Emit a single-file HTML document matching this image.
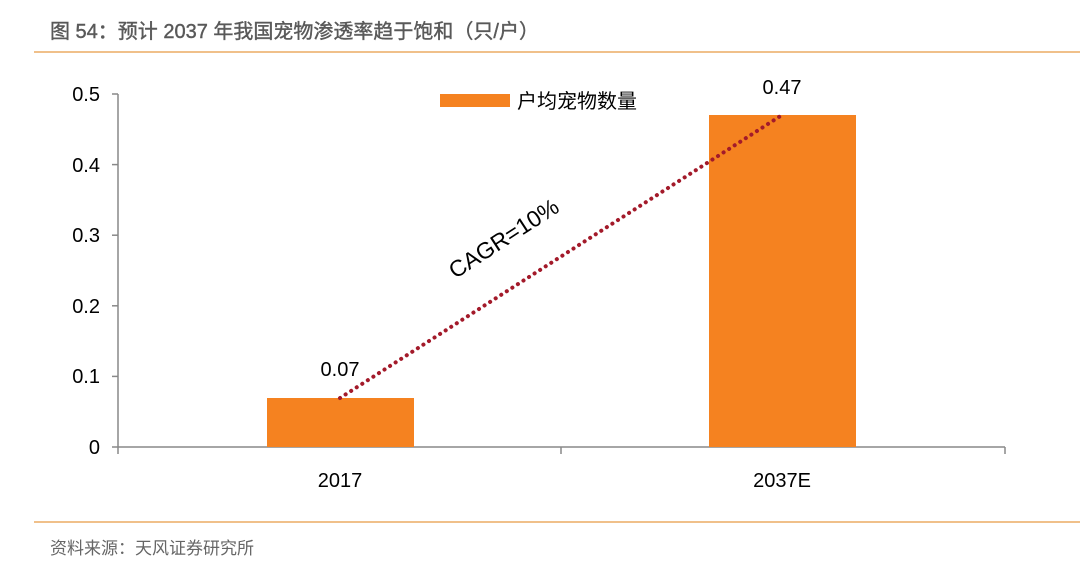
<!DOCTYPE html>
<html><head><meta charset="utf-8"><style>
body{margin:0;background:#fff;}
svg text{font-family:"Liberation Sans","Noto Sans CJK SC",sans-serif;}
</style></head><body>
<svg width="1080" height="575" xmlns="http://www.w3.org/2000/svg">
<rect width="1080" height="575" fill="#fff"/>
<text x="50" y="38" font-size="20" fill="#595959" stroke="#595959" stroke-width="0.4">图 54：预计 2037 年我国宠物渗透率趋于饱和（只/户）</text>
<line x1="34" y1="52" x2="1080" y2="52" stroke="#f0c08a" stroke-width="2"/>
<line x1="34" y1="522" x2="1080" y2="522" stroke="#f0c08a" stroke-width="2"/>
<text x="50" y="554" font-size="17" fill="#666">资料来源：天风证券研究所</text>
<g stroke="#888" stroke-width="1.5">
<line x1="118" y1="94" x2="118" y2="447"/>
<line x1="112" y1="94" x2="118" y2="94"/>
<line x1="112" y1="164.6" x2="118" y2="164.6"/>
<line x1="112" y1="235.2" x2="118" y2="235.2"/>
<line x1="112" y1="305.8" x2="118" y2="305.8"/>
<line x1="112" y1="376.4" x2="118" y2="376.4"/>
<line x1="112" y1="447" x2="1005" y2="447"/>
<line x1="118" y1="447" x2="118" y2="454"/>
<line x1="561" y1="447" x2="561" y2="454"/>
<line x1="1005" y1="447" x2="1005" y2="454"/>
</g>
<g font-size="20" fill="#000" text-anchor="end">
<text x="100" y="101">0.5</text>
<text x="100" y="172">0.4</text>
<text x="100" y="242">0.3</text>
<text x="100" y="313">0.2</text>
<text x="100" y="383">0.1</text>
<text x="100" y="454">0</text>
</g>
<rect x="267" y="398" width="147" height="49" fill="#f58220"/>
<rect x="709" y="115" width="147" height="332" fill="#f58220"/>
<g font-size="20" fill="#000" text-anchor="middle">
<text x="340" y="376">0.07</text>
<text x="782" y="94">0.47</text>
<text x="340" y="487">2017</text>
<text x="782" y="487">2037E</text>
</g>
<line x1="340" y1="398" x2="782" y2="115" stroke="#a31a2a" stroke-width="4" stroke-dasharray="0.1,6.5" stroke-linecap="round"/>
<text x="508" y="245" font-size="23" fill="#000" text-anchor="middle" transform="rotate(-33 508 245)">CAGR=10%</text>
<rect x="440" y="94" width="70" height="13" fill="#f58220"/>
<text x="517" y="108" font-size="20" fill="#000">户均宠物数量</text>
</svg>
</body></html>
